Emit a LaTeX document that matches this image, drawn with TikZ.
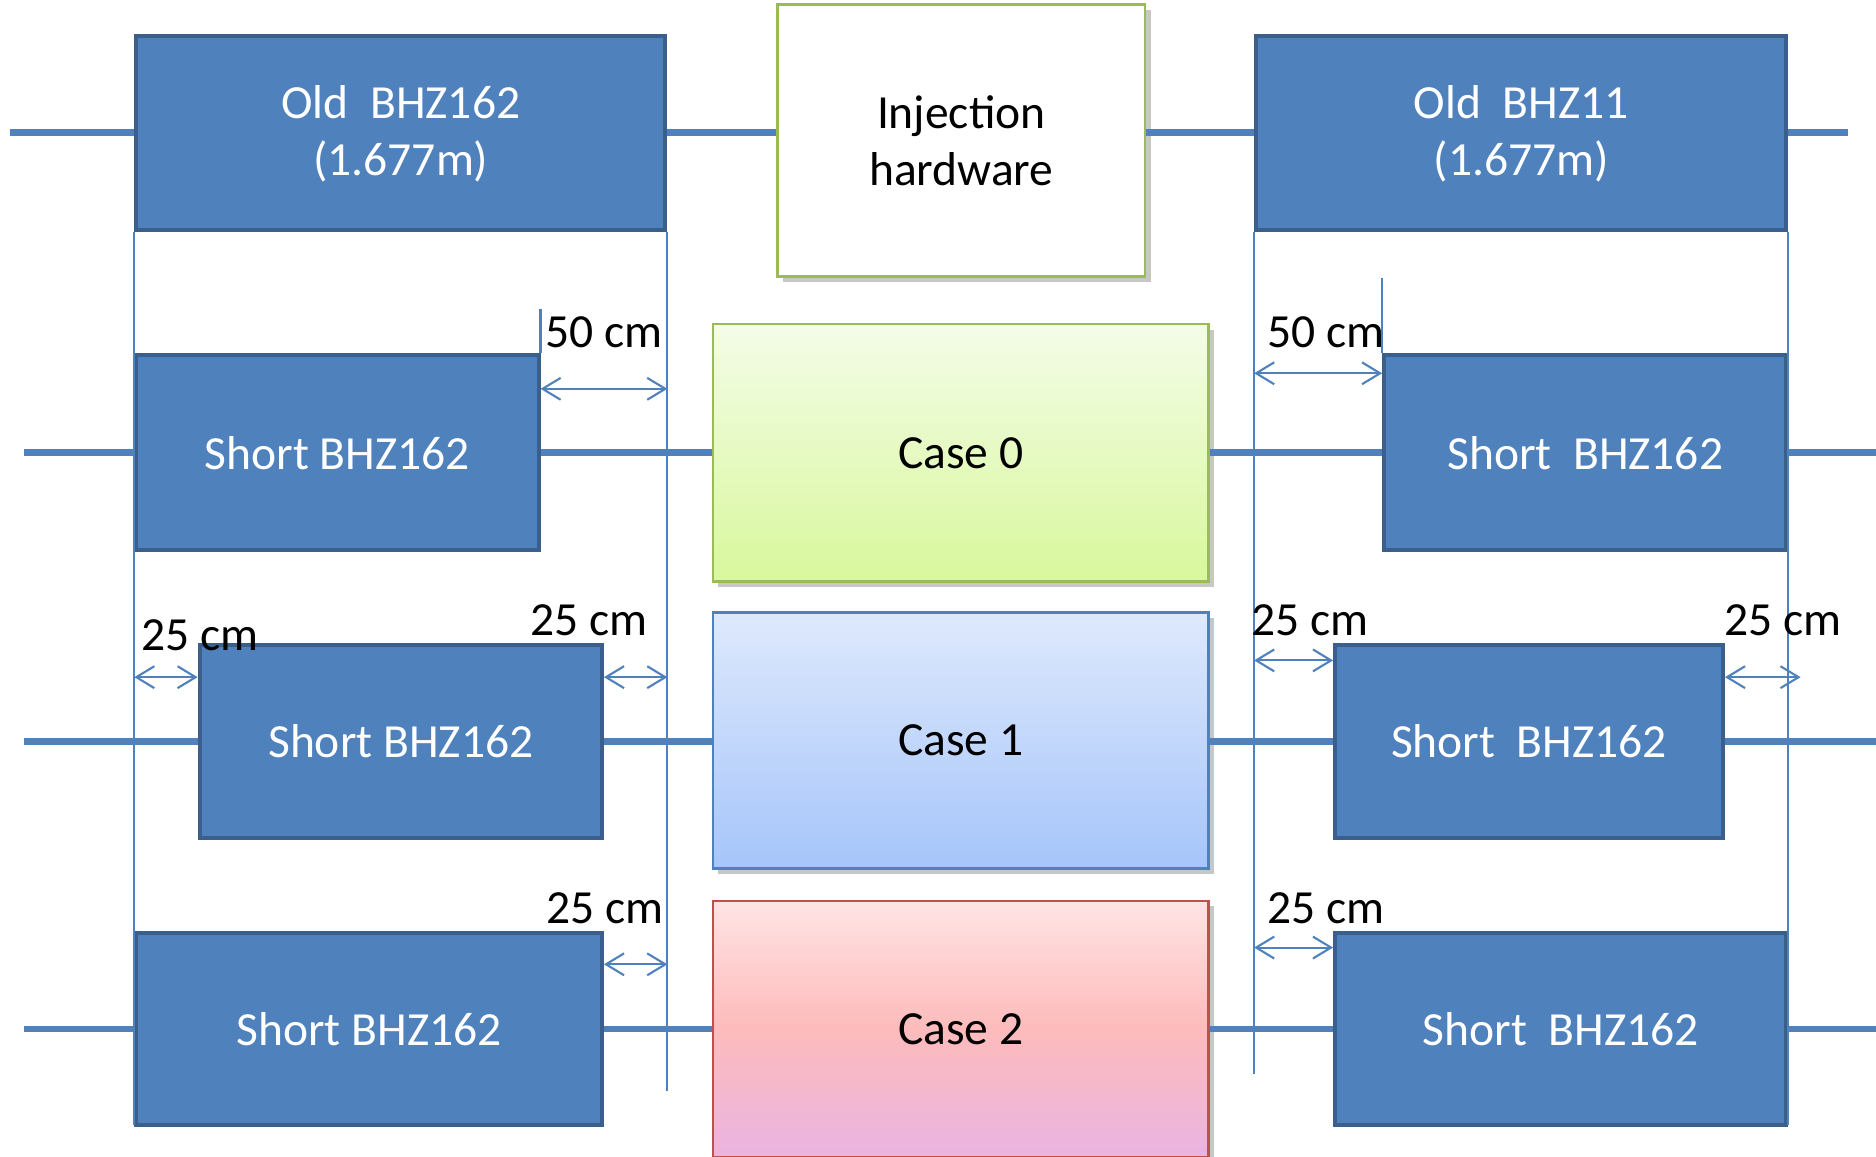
\documentclass[tikz,border=0pt]{standalone}
\usepackage{fontspec}
\setmainfont{Carlito}
\usetikzlibrary{arrows.meta,shadows}
\definecolor{magnetc}{HTML}{4F81BD}
\definecolor{magnetedge}{HTML}{3A5F8C}
\definecolor{injc}{HTML}{9BBB59}
\definecolor{casezerotop}{HTML}{F4FCE8}
\definecolor{casezerobot}{HTML}{D8F89C}
\definecolor{caseonetop}{HTML}{DEE9FC}
\definecolor{caseonebot}{HTML}{A6C5FA}
\definecolor{casetwoc}{HTML}{C0504D}
\definecolor{casetwotop}{HTML}{FFE4E4}
\definecolor{casetwomid}{HTML}{FDBBBB}
\definecolor{casetwobot}{HTML}{EAB4E2}
\tikzset{
  label font/.style={font=\fontsize{11.3}{13.6}\selectfont},
  magnet/.style={draw=magnetedge, fill=magnetc, line width=0.95pt, text=white, align=center, inner sep=0pt, label font},
  casebox/.style={line width=0.6pt, align=center, inner sep=0pt, label font,
    drop shadow={shadow xshift=1.3pt, shadow yshift=-1.3pt, fill=black, opacity=0.22}},
  beam/.style={draw=magnetc, line width=1.6pt},
  guide/.style={draw=magnetc, line width=0.5pt},
  gap/.style={guide, {Straight Barb[length=4.3pt,width=5.2pt]}-{Straight Barb[length=4.3pt,width=5.2pt]}},
  gaplabel/.style={inner sep=0pt, label font},
}
\begin{document}
\begin{tikzpicture}[x=0.01cm, y=-0.01cm]
\useasboundingbox (0,0) rectangle (1568,967);
% old lattice
\node[magnet, minimum width=4.42cm, minimum height=1.62cm, text depth=1pt] (old162) at (335,111) {Old\ \ BHZ162\\(1.677m)};
\node[casebox, draw=injc, fill=white, minimum width=3.07cm, minimum height=2.27cm] (inj) at (803.5,117.5) {Injection\\hardware};
\node[magnet, minimum width=4.43cm, minimum height=1.62cm, text depth=1pt] (old11) at (1271.5,111) {Old\ \ BHZ11\\(1.677m)};
% case 0
\node[magnet, minimum width=3.36cm, minimum height=1.63cm] (s0l) at (282,378.5) {Short BHZ162};
\node[casebox, draw=injc, top color=casezerotop, bottom color=casezerobot, minimum width=4.14cm, minimum height=2.15cm] (case0) at (803,378.5) {Case 0};
\node[magnet, minimum width=3.36cm, minimum height=1.63cm] (s0r) at (1325,378.5) {Short\ \ BHZ162};
% case 1
\node[magnet, minimum width=3.36cm, minimum height=1.61cm] (s1l) at (335,619.5) {Short BHZ162};
\node[casebox, draw=magnetc, top color=caseonetop, bottom color=caseonebot, minimum width=4.14cm, minimum height=2.14cm] (case1) at (803,619) {Case 1};
\node[magnet, minimum width=3.24cm, minimum height=1.61cm] (s1r) at (1278,619.5) {Short\ \ BHZ162};
% case 2
\node[magnet, minimum width=3.89cm, minimum height=1.60cm] (s2l) at (308.5,860) {Short BHZ162};
\node[casebox, draw=casetwoc, top color=casetwotop, bottom color=casetwobot, middle color=casetwomid, minimum width=4.14cm, minimum height=2.14cm] (case2) at (803,860) {Case 2};
\node[magnet, minimum width=3.77cm, minimum height=1.60cm] (s2r) at (1304.5,860) {Short\ \ BHZ162};

% beam line
\coordinate (b1l) at (8,111);
\coordinate (b1r) at (1545,111);
\coordinate (b2l) at (20,378.5);
\coordinate (b2r) at (1568,378.5);
\coordinate (b3l) at (20,619.5);
\coordinate (b3r) at (1568,619.5);
\coordinate (b4l) at (20,860);
\coordinate (b4r) at (1568,860);
\draw[beam] (b1l) -- (b1l -| old162.west);
\draw[beam] (old162.east |- b1l) -- (b1l -| inj.west);
\draw[beam] (inj.east |- b1r) -- (b1r -| old11.west);
\draw[beam] (old11.east |- b1r) -- (b1r);
\draw[beam] (b2l) -- (s0l.west);
\draw[beam] (s0l.east) -- (case0.west);
\draw[beam] (case0.east) -- (s0r.west);
\draw[beam] (s0r.east) -- (b2r);
\draw[beam] (b3l) -- (s1l.west);
\draw[beam] (s1l.east) -- (s1l.east -| case1.west);
\draw[beam] (s1r.west -| case1.east) -- (s1r.west);
\draw[beam] (s1r.east) -- (b3r);
\draw[beam] (b4l) -- (s2l.west);
\draw[beam] (s2l.east) -- (case2.west);
\draw[beam] (case2.east) -- (s2r.west);
\draw[beam] (s2r.east) -- (b4r);

% reference lines of the old magnets
\coordinate (gL) at (old162.south west);
\coordinate (gA) at (old162.south east);
\coordinate (gB) at (old11.south west);
\coordinate (gR) at (old11.south east);
\draw[guide] (gL) -- (gL |- 0,940);
\draw[guide] (gA) -- (gA |- 0,912);
\draw[guide] (gB) -- (gB |- 0,898);
\draw[guide] (gR) -- (gR |- 0,940);
\draw[guide] (s0l.north east) -- (s0l.north east |- 0,258);
\draw[guide] (s0r.north west) -- (s0r.north west |- 0,232);

% gaps
\coordinate (e1) at (1505,566);
\draw[gap] (s0l.east |- 0,325) -- (gA |- 0,325);
\draw[gap] (gB |- 0,312) -- (s0r.west |- 0,312);
\draw[gap] (gL |- 0,566) -- (s1l.west |- 0,566);
\draw[gap] (s1l.east |- 0,566) -- (gA |- 0,566);
\draw[gap] (gB |- 0,552) -- (s1r.west |- 0,552);
\draw[gap] (s1r.east |- 0,566) -- (e1);
\draw[gap] (s2l.east |- 0,806) -- (gA |- 0,806);
\draw[gap] (gB |- 0,792) -- (s2r.west |- 0,792);
\node[gaplabel] (d0l) at (505,278) {50 cm};
\node[gaplabel] (d0r) at (1108,278) {50 cm};
\node[gaplabel] (d1a) at (167,531) {25 cm};
\node[gaplabel] (d1b) at (492,518) {25 cm};
\node[gaplabel] (d1c) at (1095,518) {25 cm};
\node[gaplabel] (d1d) at (1490,518) {25 cm};
\node[gaplabel] (d2l) at (506,759) {25 cm};
\node[gaplabel] (d2r) at (1108,759) {25 cm};
\end{tikzpicture}
\end{document}
